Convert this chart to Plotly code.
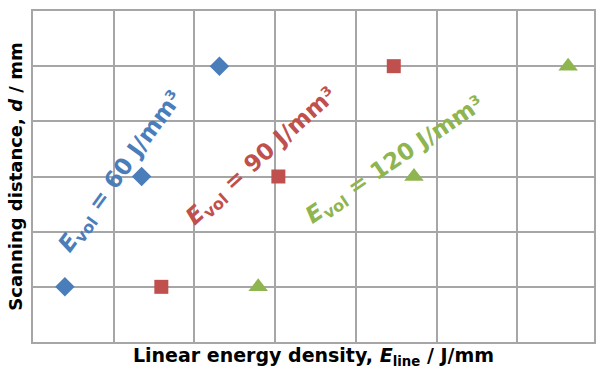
import plotly.graph_objects as go

# Data (arbitrary grid units)
series_names = ["E_vol = 60 J/mm³", "E_vol = 90 J/mm³", "E_vol = 120 J/mm³"]
x_60 = [0.395, 1.346, 2.31]
y_60 = [1, 3, 5]
x_90 = [1.59, 3.04, 4.47]
y_90 = [1, 3, 5]
x_120 = [2.79, 4.72, 6.63]
y_120 = [1, 3, 5]

blue = "#4a7ebb"
red = "#c0504d"
green = "#8fb550"
font_family = "DejaVu Sans"

fig = go.Figure()
fig.add_trace(go.Scatter(x=x_60, y=y_60, mode="markers", name=series_names[0],
                         marker=dict(symbol="diamond", size=15, color=blue)))
fig.add_trace(go.Scatter(x=x_90, y=y_90, mode="markers", name=series_names[1],
                         marker=dict(symbol="square", size=14, color=red)))
fig.add_trace(go.Scatter(x=x_120, y=y_120, mode="markers", name=series_names[2],
                         marker=dict(symbol="triangle-up", size=17, color=green)))

def ann_font(color):
    return dict(family=font_family, size=23, weight="bold", color=color)

fig.add_annotation(x=1.10, y=3.08, text="<i>E</i><sub>vol</sub> = 60 J/mm³", textangle=-54,
                   xref="x", yref="y", showarrow=False, font=ann_font(blue))
fig.add_annotation(x=2.84, y=3.35, text="<i>E</i><sub>vol</sub> = 90 J/mm³", textangle=-42,
                   xref="x", yref="y", showarrow=False, font=ann_font(red))
fig.add_annotation(x=4.49, y=3.28, text="<i>E</i><sub>vol</sub> = 120 J/mm³", textangle=-34,
                   xref="x", yref="y", showarrow=False, font=ann_font(green))

grid_color = "#a6a6a6"
fig.update_xaxes(range=[0, 563 / 81], dtick=1, tick0=0, showticklabels=False, ticks="",
                 showgrid=True, gridcolor=grid_color, gridwidth=1.5,
                 showline=True, linecolor=grid_color, linewidth=1.5, mirror=True, zeroline=False,
                 title=dict(text="Linear energy density, <i>E</i><sub>line</sub> / J/mm",
                            font=dict(family=font_family, size=19, weight="bold", color="black"),
                            standoff=6))
fig.update_yaxes(range=[0, 6], dtick=1, tick0=0, showticklabels=False, ticks="",
                 showgrid=True, gridcolor=grid_color, gridwidth=1.5,
                 showline=True, linecolor=grid_color, linewidth=1.5, mirror=True, zeroline=False,
                 title=dict(text="Scanning distance, <i>d</i> / mm",
                            font=dict(family=font_family, size=18, weight="bold", color="black"),
                            standoff=4))
fig.update_layout(width=596, height=374, showlegend=False,
                  margin=dict(l=33, r=0, t=11, b=32),
                  plot_bgcolor="white", paper_bgcolor="white")

fig.write_html("out.html")
